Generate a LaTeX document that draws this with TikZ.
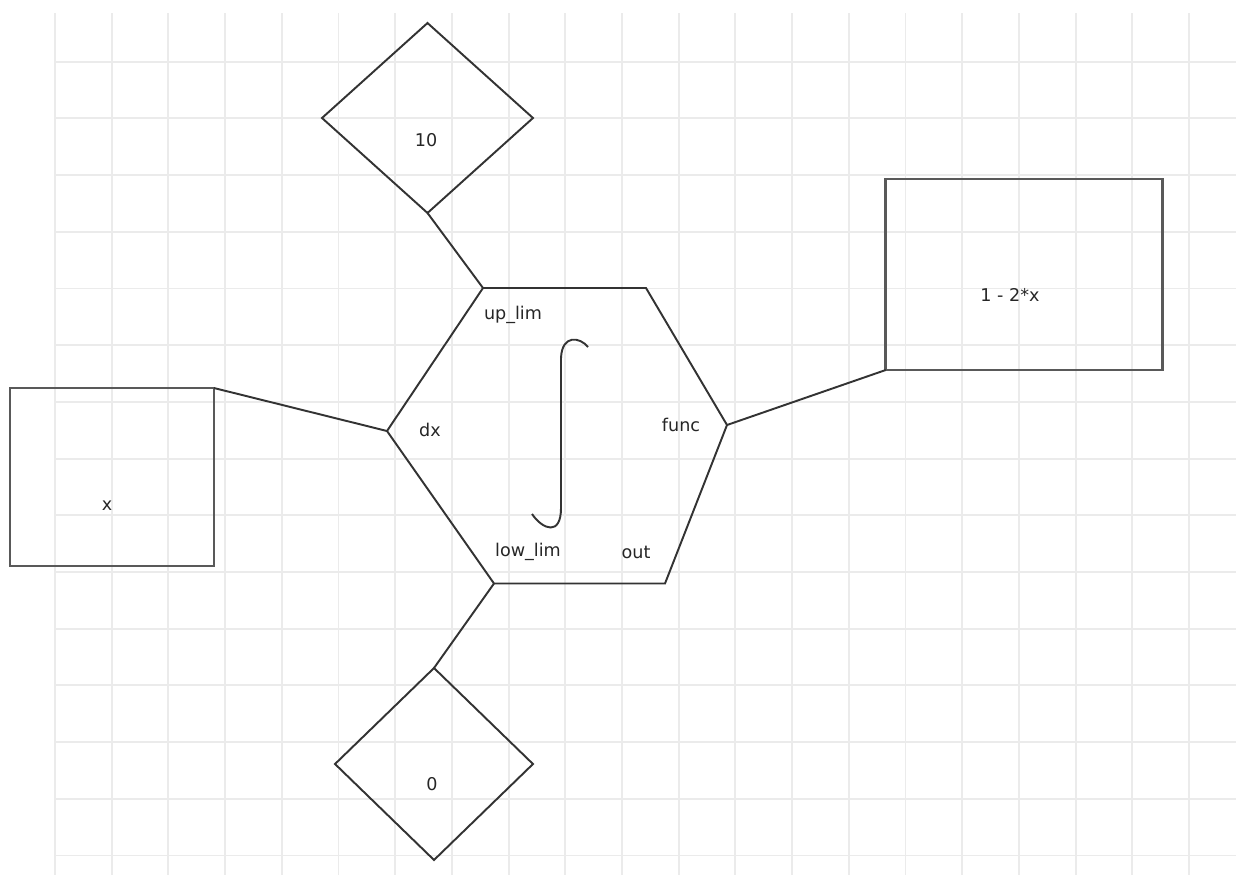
\documentclass[tikz,border=0pt]{standalone}
\usepackage{fontspec}
\setmainfont{DejaVu Sans}
\usepackage{tikz}
\usetikzlibrary{positioning, shapes.geometric}
\definecolor{gridGray}{HTML}{EBEBEB}
\definecolor{inkGray}{HTML}{333333}

\begin{document}
\begin{tikzpicture}[x=0.02cm, y=-0.02cm,
          box/.style={draw=black!65, line width=1.5pt, inner sep=0pt, outer sep=0pt},
          gem/.style={diamond, draw=inkGray, line width=1.1pt, inner sep=0pt, outer sep=0pt},
          lbl/.style={font=\fontsize{10}{12}\selectfont, text=black!85, inner sep=1pt},
          wire/.style={draw=inkGray, line width=1.1pt},
        ]
        \useasboundingbox (0,0) rectangle (1236,875);
        % background grid
        \foreach \k in {0,...,20}
          \draw[gridGray, line width=1.1pt] (55+56.7*\k,13) -- (55+56.7*\k,875);
        \foreach \k in {0,...,14}
          \draw[gridGray, line width=1.1pt] (55,61.7+56.7*\k) -- (1236,61.7+56.7*\k);

        % input blocks
        \node[gem, minimum width=4.22cm, minimum height=3.8cm] (up) at (427.5,118) {};
        \node[lbl] (upT) at (426,140) {10};
        \node[gem, minimum width=3.96cm, minimum height=3.84cm] (low) at (434,764) {};
        \node[lbl] (lowT) at (432,784) {0};
        \node[box, minimum width=4.08cm, minimum height=3.56cm] (var) at (112,477) {};
        \node[lbl] (varT) at (107,506) {x};
        \node[box, minimum width=5.53cm, minimum height=3.82cm] (fn) at (1024,274.5) {};
        \node[lbl] (fnT) at (1010,295) {1 - 2*x};

        % integral block
        \coordinate (hTL) at (483,288);
        \coordinate (hTR) at (646,288);
        \coordinate (hR) at (727,425);
        \coordinate (hBR) at (665,583.5);
        \coordinate (hBL) at (494,583.5);
        \coordinate (hL) at (387,431);
        \draw[wire] (hTL) -- (hTR) -- (hR) -- (hBR) -- (hBL) -- (hL) -- cycle;
        \draw[inkGray, line width=1.1pt] (588,347) .. controls (580,337) and (562,334) .. (561,358)
          -- (561,508) .. controls (561,536) and (543,530) .. (532,514);
        \node[lbl] (pUp) at (513,315) {up\_lim};
        \node[lbl] (pDx) at (430,430) {dx};
        \node[lbl] (pFn) at (681,425) {func};
        \node[lbl] (pLow) at (528,552) {low\_lim};
        \node[lbl] (pOut) at (636,552) {out};

        % connections
        \draw[wire] (up.south) -- (hTL);
        \draw[wire] (var.north east) -- (hL);
        \draw[wire] (hR) -- (fn.south west);
        \draw[wire] (hBL) -- (low.north);
      \end{tikzpicture}
\end{document}
